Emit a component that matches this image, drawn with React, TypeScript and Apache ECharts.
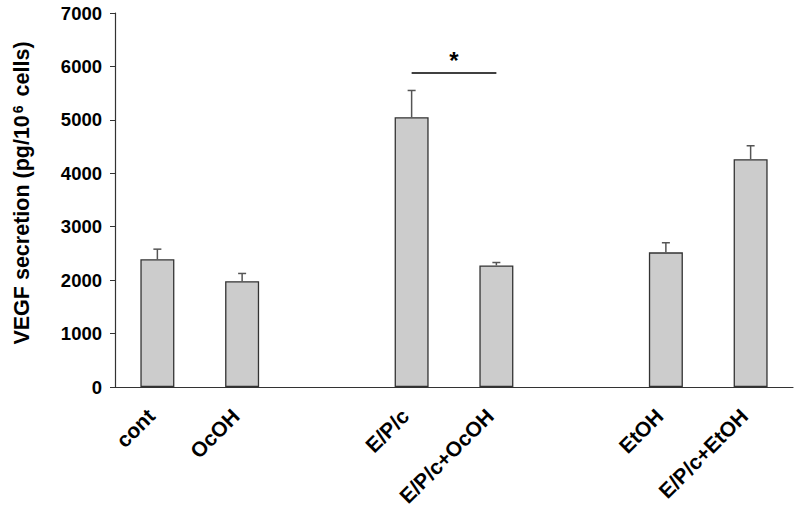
import React, { useEffect, useRef } from "react";
import * as echarts from "echarts";

const categories = ["cont", "OcOH", "gap1", "E/P/c", "E/P/c+OcOH", "gap2", "EtOH", "E/P/c+EtOH"];
const means: (number | null)[] = [2390, 1980, null, 5050, 2275, null, 2520, 4265];
const errors: (number | null)[] = [190, 145, null, 500, 55, null, 180, 250];
const yTicks = { min: 0, max: 7000, interval: 1000 };
const sigPair = ["E/P/c", "E/P/c+OcOH"];
const sigLevel = 5880;

const FONT = "'Liberation Sans', Arial, sans-serif";

export default function App() {
  const ref = useRef<HTMLDivElement>(null);
  useEffect(() => {
    if (!ref.current) return;
    const chart = echarts.init(ref.current, undefined, { renderer: "svg" });
    const errData = means
      .map((m, i) => (m == null || errors[i] == null ? null : [i, m, m + (errors[i] as number)]))
      .filter((d) => d != null);
    chart.setOption({
      animation: false,
      backgroundColor: "#ffffff",
      grid: { left: 115, right: 7, top: 13, bottom: 125, containLabel: false, outerBoundsMode: "none" },
      xAxis: {
        type: "category",
        data: categories,
        boundaryGap: true,
        axisTick: { show: false },
        axisLine: { lineStyle: { color: "#333", width: 1.2 } },
        axisLabel: {
          rotate: 45,
          margin: 19,
          interval: 0,
          padding: [0, 9, 0, 0],
          fontFamily: FONT,
          fontWeight: "bold",
          fontSize: 21,
          color: "#000",
          formatter: (v: string) => (v.startsWith("gap") ? "" : v),
        },
      },
      yAxis: {
        type: "value",
        min: yTicks.min,
        max: yTicks.max,
        interval: yTicks.interval,
        splitLine: { show: false },
        axisLine: { show: true, lineStyle: { color: "#333", width: 1.2 } },
        axisTick: { show: true, length: 5, lineStyle: { color: "#333" } },
        axisLabel: {
          margin: 13,
          fontFamily: FONT,
          fontWeight: "bold",
          fontSize: 18.5,
          color: "#000",
          formatter: (v: number) => String(v),
        },
        name: "{a|VEGF secretion (pg/10}{s|6}{a| cells)}",
        nameLocation: "middle",
        nameGap: 82,
        nameRotate: 90,
        nameTextStyle: {
          padding: [0, 0, 0, 14],
          rich: {
            a: { fontFamily: FONT, fontWeight: "bold", fontSize: 21.5, color: "#000" },
            s: { fontFamily: FONT, fontWeight: "bold", fontSize: 14, color: "#000", verticalAlign: "top", padding: [0, 3, 8, 2] },
          },
        },
      },
      series: [
        {
          type: "bar",
          data: means.map((m) => (m == null ? "-" : m)),
          barWidth: 34,
          itemStyle: { color: "#cccccc", borderColor: "#333", borderWidth: 1.3 },
          markLine: {
            silent: true,
            symbol: ["none", "none"],
            lineStyle: { color: "#000", width: 1.5, type: "solid" },
            label: {
              show: true,
              position: "middle",
              formatter: "*",
              fontFamily: FONT,
              fontWeight: "bold",
              fontSize: 24,
              color: "#000",
              distance: 0,
            },
            data: [[{ coord: [sigPair[0], sigLevel] }, { coord: [sigPair[1], sigLevel] }]],
          },
        },
        {
          type: "custom",
          data: errData,
          renderItem: (params: any, api: any) => {
            const x = api.value(0);
            const p0 = api.coord([x, api.value(1)]);
            const p1 = api.coord([x, api.value(2)]);
            const style = { stroke: "#555", lineWidth: 1.5 };
            return {
              type: "group",
              children: [
                { type: "line", shape: { x1: p0[0], y1: p0[1], x2: p1[0], y2: p1[1] }, style },
                { type: "line", shape: { x1: p1[0] - 4, y1: p1[1], x2: p1[0] + 4, y2: p1[1] }, style },
              ],
            };
          },
          z: 3,
        },
      ],
    });
    return () => chart.dispose();
  }, []);
  return <div ref={ref} style={{ width: 800, height: 512, position: "absolute", left: 0, top: 0 }} />;
}
